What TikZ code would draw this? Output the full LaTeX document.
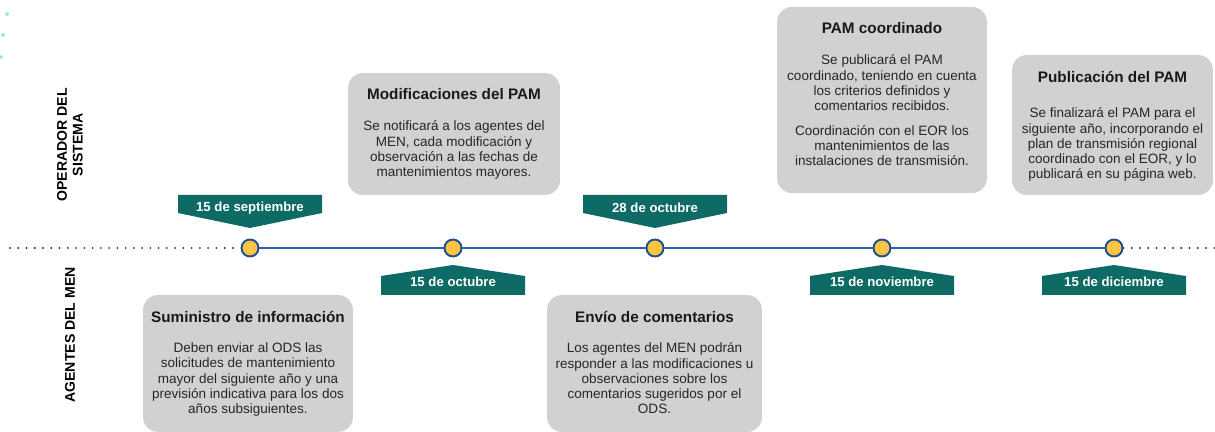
\documentclass[tikz,border=0pt]{standalone}
\usepackage{fontspec}
\setmainfont{Liberation Sans}
\usetikzlibrary{positioning}

\definecolor{tagteal}{RGB}{14,106,101}
\definecolor{hitoazul}{RGB}{29,79,145}
\definecolor{hitoamar}{RGB}{252,195,69}
\definecolor{lineazul}{RGB}{47,95,167}
\definecolor{cajagris}{RGB}{209,209,209}
\definecolor{textogris}{RGB}{38,38,38}
\definecolor{puntocian}{RGB}{170,225,236}

\tikzset{
  caja/.style={fill=cajagris, rounded corners=0.3cm, inner sep=0pt},
  titulo/.style={font=\fontsize{8.7}{10.5}\selectfont\bfseries, text=black!90, inner sep=0pt},
  cuerpo/.style={font=\fontsize{7.7}{8.6}\selectfont, text=textogris, align=center, anchor=north, inner sep=0pt},
  hito/.style={circle, draw=hitoazul, line width=1.1pt, fill=hitoamar, minimum size=0.34cm, inner sep=0pt},
  fecha/.style={text=white, font=\fontsize{7.5}{9}\selectfont\bfseries, inner sep=0pt},
  lado/.style={rotate=90, align=center, font=\fontsize{8}{9}\selectfont\bfseries},
  puntos/.style={black!80, line width=1.2pt, line cap=round, dash pattern=on 0pt off 4.7pt},
}

\begin{document}
\begin{tikzpicture}[x=0.02cm, y=-0.02cm]
    \useasboundingbox (0,0) rectangle (1215,432);

    % faint dots in the corner
    \foreach \px/\py in {7/14, 3/35, 1/57}
        \fill[puntocian] (\px,\py) circle (2);

    % side labels
    \node[lado] (operador) at (70,145) {OPERADOR DEL\\SISTEMA};
    \node[lado] (agentes) at (70,335) {AGENTES DEL MEN};

    % milestones on the timeline
    \foreach \n/\x in {1/250, 2/453, 3/655, 4/882, 5/1114}
        \node[hito] (c\n) at (\x,248) {};

    \coordinate (ini) at (10,248);
    \coordinate (fin) at (1215,248);
    \draw[puntos] (ini) -- (c1);
    \draw[lineazul, line width=1pt] (c1) -- (c2) -- (c3) -- (c4) -- (c5);
    \draw[puntos] (c5) -- (fin);

    % date tags above the line
    \foreach \n/\lbl in {1/15 de septiembre, 3/28 de octubre} {
        \fill[tagteal] ([shift={(-72,-53)}]c\n.center) -- ([shift={(72,-53)}]c\n.center)
            -- ([shift={(72,-35)}]c\n.center) -- ([shift={(0,-20)}]c\n.center)
            -- ([shift={(-72,-35)}]c\n.center) -- cycle;
        \node[fecha] (t\n) at ([shift={(0,-40)}]c\n.center) {\lbl};
    }

    % date tags below the line
    \foreach \n/\lbl in {2/15 de octubre, 4/15 de noviembre, 5/15 de diciembre} {
        \fill[tagteal] ([shift={(-72,47)}]c\n.center) -- ([shift={(72,47)}]c\n.center)
            -- ([shift={(72,28)}]c\n.center) -- ([shift={(0,17)}]c\n.center)
            -- ([shift={(-72,28)}]c\n.center) -- cycle;
        \node[fecha] (t\n) at ([shift={(0,34)}]c\n.center) {\lbl};
    }

    % operator boxes (top)
    \node[caja, minimum width=4.24cm, minimum height=2.44cm] (modbox) at (454,134) {};
    \node[titulo] (modtit) at ([yshift=-0.42cm]modbox.north) {Modificaciones del PAM};
    \node[cuerpo] (modtxt) at ([yshift=-0.96cm]modbox.north)
        {Se notificará a los agentes del\\MEN, cada modificación y\\observación a las fechas de\\mantenimientos mayores.};

    \node[caja, minimum width=4.2cm, minimum height=3.72cm] (coorbox) at (882,100) {};
    \node[titulo] (coortit) at ([yshift=-0.42cm]coorbox.north) {PAM coordinado};
    \node[cuerpo] (coortxt) at ([yshift=-0.96cm]coorbox.north)
        {Se publicará el PAM\\coordinado, teniendo en cuenta\\los criterios definidos y\\comentarios recibidos.\\[5.5pt]
         Coordinación con el EOR los\\mantenimientos de las\\instalaciones de transmisión.};

    \node[caja, minimum width=4.02cm, minimum height=2.8cm] (pubbox) at (1112.5,125) {};
    \node[titulo] (pubtit) at ([yshift=-0.44cm]pubbox.north) {Publicación del PAM};
    \node[cuerpo] (pubtxt) at ([yshift=-1.06cm]pubbox.north)
        {Se finalizará el PAM para el\\siguiente año, incorporando el\\plan de transmisión regional\\coordinado con el EOR, y lo\\publicará en su página web.};

    % agents boxes (bottom)
    \node[caja, minimum width=4.2cm, minimum height=2.74cm] (sumbox) at (248,363.5) {};
    \node[titulo] (sumtit) at ([yshift=-0.44cm]sumbox.north) {Suministro de información};
    \node[cuerpo] (sumtxt) at ([yshift=-0.96cm]sumbox.north)
        {Deben enviar al ODS las\\solicitudes de mantenimiento\\mayor del siguiente año y una\\previsión indicativa para los dos\\años subsiguientes.};

    \node[caja, minimum width=4.3cm, minimum height=2.74cm] (envbox) at (654.5,363.5) {};
    \node[titulo] (envtit) at ([yshift=-0.44cm]envbox.north) {Envío de comentarios};
    \node[cuerpo] (envtxt) at ([yshift=-0.96cm]envbox.north)
        {Los agentes del MEN podrán\\responder a las modificaciones u\\observaciones sobre los\\comentarios sugeridos por el\\ODS.};
\end{tikzpicture}
\end{document}
